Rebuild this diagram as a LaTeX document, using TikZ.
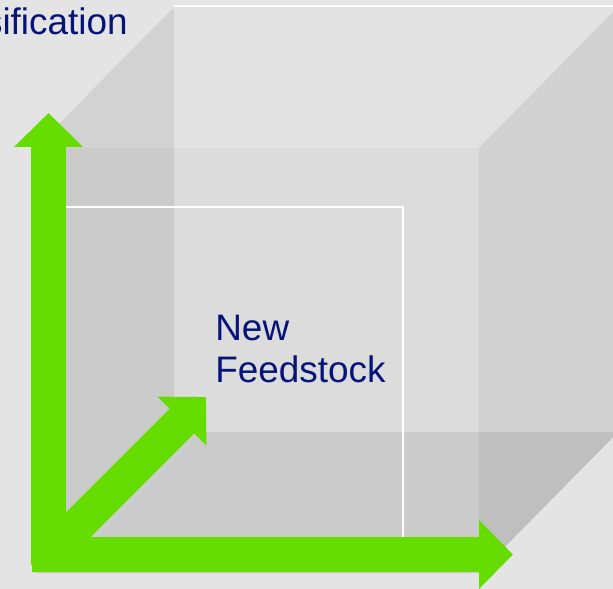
\documentclass[tikz,border=0pt]{standalone}
\usepackage{fontspec}
\setmainfont{Liberation Sans}
\usepackage{xcolor}
\usepackage{tikz}
\usetikzlibrary{arrows.meta}
\usetikzlibrary{positioning}
\definecolor{slidebg}{HTML}{E4E4E4}
\definecolor{topface}{HTML}{E2E2E2}
\definecolor{sideface}{HTML}{D2D2D2}
\definecolor{rightface}{HTML}{D1D1D1}
\definecolor{frontface}{HTML}{DCDCDC}
\definecolor{shadeface}{HTML}{CBCBCB}
\definecolor{floorface}{HTML}{BFBFBF}
\definecolor{axisgreen}{HTML}{66DD00}
\definecolor{labelblue}{RGB}{5,20,120}
\tikzset{
    face/.style = {draw=none},
    edgew/.style = {draw=white, line width=0.045cm},
    axisarrow/.style = {draw=axisgreen, line width=0.7cm, -{Triangle[width=1.34cm,length=0.68cm]}},
    axislabel/.style = {inner sep=0pt, text=labelblue, align=left, font=\fontsize{21}{23.9}\selectfont},
}

\begin{document}
\begin{tikzpicture}[x=0.02cm, y=-0.02cm]
\useasboundingbox (0,0) rectangle (613,589);
\clip (0,0) rectangle (613,589);
\fill[slidebg] (0,0) rectangle (613,589);
% cube, back to front
\fill[face, topface] (35,148) -- (174,7) -- (618,7) -- (479,148) -- cycle;
\fill[face, sideface] (35,148) -- (174,7) -- (174,432) -- (35,573) -- cycle;
\fill[face, rightface] (479,148) -- (618,7) -- (618,432) -- (479,573) -- cycle;
\fill[face, floorface] (35,573) -- (174,432) -- (618,432) -- (479,573) -- cycle;
\fill[face, frontface] (35,148) rectangle (479,573);
\fill[face, shadeface] (35,148) -- (174,148) -- (174,432) -- (479,432) -- (479,573) -- (35,573) -- cycle;
\draw[edgew] (174,6) -- (618,6);
\draw[white, line width=0.03cm] (48,207) rectangle (403,555);
%
\coordinate (origin) at (48.5,554.5);
\coordinate (ybottom) at (48.5,565);
\coordinate (xstart) at (32,554.5);
\coordinate (ytip) at (48.5,113);
\coordinate (xtip) at (513,554.5);
\coordinate (ztip) at (206,397);
%
\draw[axisarrow] (origin) -- (ztip);
\draw[axisarrow] (ybottom) -- (ytip);
\draw[axisarrow] (xstart) -- (xtip);
%
\node[axislabel, anchor=base east] (diver) at (128,34) {sification};
\node[axislabel, anchor=north west] (feed) at (215,314.5) {New\\Feedstock};
\end{tikzpicture}
\end{document}
